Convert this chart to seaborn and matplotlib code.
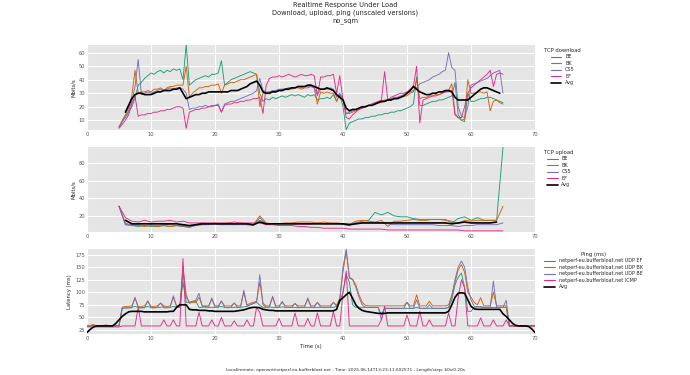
import numpy as np
import pandas as pd
import matplotlib
matplotlib.use("Agg")
import matplotlib.pyplot as plt
from matplotlib.lines import Line2D
import seaborn as sns

# ---------------- data ----------------
# TCP download (Mbits/s), time grid 5.0 .. 65.0 step 0.5
dl_t = np.round(np.arange(5.0, 65.01, 0.5), 1)
dl_be = [5, 9, 12, 16, 20, 26, 36, 38, 41, 43,
         45, 44, 46, 47, 45, 47, 46, 48, 47, 48,
         40, 66, 36, 38, 40, 41, 42, 43, 42, 44,
         44, 45, 54, 36, 38, 40, 41, 42, 43, 44,
         45, 46, 45, 44, 30, 24, 26, 25, 27, 26,
         27, 28, 27, 28, 29, 28, 29, 28, 27, 29,
         28, 29, 25, 26, 26, 27, 26, 29, 24, 29,
         20, 3, 8, 9, 10, 11, 11, 12, 12, 13,
         13, 14, 14, 15, 15, 16, 16, 17, 17, 18,
         19, 20, 22, 42, 21, 21, 22, 23, 24, 24,
         25, 25, 26, 27, 28, 38, 14, 10, 9, 30,
         24, 24, 25, 26, 26, 27, 27, 26, 25, 24, 23]
dl_bk = [5, 10, 14, 19, 28, 47, 30, 31, 31, 32,
         31, 33, 33, 34, 32, 34, 35, 35, 36, 36,
         36, 50, 27, 30, 32, 34, 34, 35, 35, 36,
         36, 37, 30, 36, 37, 38, 38, 39, 40, 40,
         41, 42, 43, 44, 20, 30, 30, 31, 31, 32,
         32, 33, 33, 34, 33, 34, 34, 33, 34, 34,
         35, 34, 22, 31, 30, 31, 30, 30, 24, 29,
         25, 15, 15, 16, 17, 18, 19, 20, 21, 21,
         22, 23, 23, 24, 25, 25, 26, 27, 27, 28,
         28, 30, 31, 40, 26, 27, 27, 28, 28, 29,
         29, 30, 31, 32, 37, 15, 12, 10, 11, 40,
         30, 30, 31, 31, 30, 31, 17, 24, 25, 23, 22]
dl_cs5 = [5, 9, 13, 17, 24, 35, 55, 29, 30, 31,
          30, 31, 32, 33, 32, 33, 34, 33, 34, 34,
          33, 30, 18, 19, 19, 20, 20, 21, 20, 21,
          21, 22, 16, 22, 23, 24, 24, 25, 26, 27,
          28, 29, 30, 32, 41, 32, 31, 31, 32, 32,
          33, 33, 33, 34, 34, 34, 35, 34, 35, 35,
          35, 34, 29, 33, 33, 33, 34, 33, 27, 30,
          26, 15, 16, 17, 18, 19, 19, 20, 21, 22,
          23, 23, 24, 25, 25, 26, 27, 27, 28, 29,
          30, 31, 32, 34, 37, 38, 39, 40, 42, 43,
          44, 46, 47, 60, 49, 47, 20, 13, 12, 20,
          36, 37, 38, 39, 40, 41, 43, 45, 46, 47, 30]
dl_ef = [4, 7, 10, 14, 22, 28, 13, 14, 14, 15,
         15, 16, 16, 17, 17, 18, 18, 19, 20, 20,
         19, 4, 16, 17, 18, 18, 19, 19, 20, 20,
         21, 21, 16, 21, 22, 22, 23, 23, 24, 24,
         25, 25, 26, 26, 27, 15, 36, 41, 42, 42,
         43, 42, 43, 44, 43, 42, 43, 44, 43, 43,
         44, 43, 28, 42, 42, 43, 43, 44, 30, 43,
         25, 12, 11, 14, 16, 18, 19, 20, 21, 22,
         23, 24, 25, 46, 25, 27, 28, 29, 30, 30,
         31, 33, 35, 50, 8, 25, 26, 27, 28, 28,
         29, 30, 31, 31, 32, 14, 12, 12, 20, 30,
         34, 36, 38, 40, 42, 44, 47, 35, 44, 45, 44]
dl_avg_t = np.round(np.arange(6.0, 64.51, 0.5), 1)
dl_avg = [16, 21, 26, 29, 30, 30, 29, 29,
          29, 30, 31, 31, 32, 32, 32, 33, 33, 34,
          30, 26, 27, 28, 29, 29, 30, 30, 31, 31,
          31, 31, 31, 31, 31, 32, 32, 32, 33, 34,
          35, 37, 38, 39, 36, 31, 30, 30, 31, 31,
          32, 32, 33, 33, 34, 34, 35, 35, 35, 36,
          36, 35, 34, 33, 33, 34, 33, 32, 29, 27,
          25, 19, 17, 18, 18, 19, 20, 20, 21, 21,
          22, 23, 24, 24, 25, 25, 26, 26, 27, 28,
          30, 32, 35, 33, 31, 30, 29, 29, 30, 30,
          31, 31, 32, 32, 31, 27, 25, 25, 25, 25,
          27, 29, 31, 33, 34, 34, 33, 32, 31, 30]

# TCP upload (Mbits/s), time grid 5 .. 65 step 1
ul_t = np.arange(5, 66, 1)
ul_be = [31, 10, 9, 8, 9, 8, 8, 9, 8, 9,
         9, 8, 10, 10, 11, 11, 10, 11, 10, 11,
         10, 10, 15, 11, 11, 11, 11, 11, 11, 11,
         11, 12, 11, 11, 11, 10, 9, 12, 14, 15,
         24, 21, 24, 20, 19, 19, 17, 16, 16, 16,
         16, 16, 12, 17, 19, 15, 18, 15, 15, 15,
         98]
ul_bk = [31, 12, 9, 9, 8, 9, 8, 9, 8, 9,
         8, 7, 10, 12, 11, 12, 11, 12, 11, 12,
         11, 10, 20, 12, 11, 11, 12, 12, 13, 13,
         13, 12, 13, 12, 12, 11, 10, 14, 15, 14,
         13, 15, 8, 14, 14, 15, 16, 15, 15, 16,
         16, 15, 14, 11, 15, 14, 15, 15, 15, 15,
         31]
ul_cs5 = [31, 10, 10, 10, 9, 10, 9, 10, 10, 9,
          8, 7, 9, 10, 10, 11, 10, 10, 10, 10,
          10, 9, 18, 10, 11, 11, 11, 11, 11, 11,
          11, 11, 11, 11, 11, 11, 11, 12, 12, 12,
          12, 12, 11, 10, 10, 10, 10, 10, 10, 10,
          9, 9, 9, 8, 9, 9, 10, 10, 10, 10,
          12]
ul_ef = [31, 18, 14, 13, 15, 13, 14, 14, 15, 13,
         14, 12, 12, 12, 12, 12, 12, 12, 13, 12,
         12, 12, 12, 10, 10, 9, 9, 9, 8, 8,
         7, 7, 6, 6, 6, 6, 5, 5, 5, 5,
         5, 5, 4, 4, 4, 4, 4, 4, 4, 4,
         4, 4, 4, 4, 3, 3, 3, 3, 3, 3,
         3]
ul_avg_t = np.arange(6, 65, 1)
ul_avg = [15, 11, 11, 11, 11, 11, 11, 11, 11, 10,
          9, 10, 11, 11, 11, 11, 11, 11, 11, 11,
          10, 13, 11, 11, 11, 11, 11, 11, 11, 11,
          11, 11, 11, 11, 11, 10, 11, 12, 12, 12,
          12, 12, 12, 12, 12, 12, 12, 12, 12, 12,
          12, 11, 12, 13, 12, 12, 12, 12, 13]

# Ping (ms), time grid 0 .. 70 step 0.5
pg_t = np.round(np.arange(0.0, 70.01, 0.5), 1)
pg_udp_ef = [33, 33, 34, 33, 33, 33, 34, 33, 33, 33,
             33, 68, 69, 69, 70, 72, 70, 69, 70, 72,
             70, 69, 70, 70, 71, 70, 70, 72, 70, 71,
             120, 80, 80, 82, 82, 70, 70, 72, 70, 70,
             70, 71, 72, 70, 69, 70, 70, 70, 70, 71,
             72, 75, 78, 80, 74, 70, 70, 71, 70, 70,
             70, 71, 70, 70, 70, 70, 69, 70, 70, 70,
             70, 70, 70, 70, 70, 70, 70, 70, 72, 80,
             100, 135, 120, 75, 70, 70, 70, 70, 70, 70,
             70, 70, 55, 68, 68, 68, 68, 68, 68, 68,
             68, 68, 68, 70, 68, 68, 68, 68, 68, 68,
             68, 68, 68, 70, 85, 115, 130, 138, 110, 62,
             62, 70, 72, 70, 70, 70, 70, 70, 70, 70,
             70, 70, 33, 33, 33, 33, 33, 33, 33, 33, 33]
pg_udp_bk = [34, 34, 36, 33, 34, 34, 35, 33, 34, 34,
             34, 70, 72, 72, 73, 88, 72, 72, 73, 82,
             72, 72, 73, 78, 73, 72, 73, 90, 73, 72,
             150, 95, 78, 80, 80, 90, 73, 73, 73, 86,
             73, 73, 82, 73, 73, 73, 78, 73, 73, 100,
             75, 78, 80, 82, 120, 78, 73, 73, 90, 73,
             73, 80, 73, 73, 73, 77, 73, 73, 73, 86,
             73, 73, 80, 73, 73, 73, 73, 80, 74, 88,
             140, 183, 130, 126, 115, 95, 80, 74, 73, 73,
             73, 73, 73, 73, 73, 73, 73, 73, 73, 73,
             80, 73, 73, 95, 73, 73, 73, 82, 73, 73,
             73, 73, 73, 75, 95, 120, 145, 155, 140, 100,
             90, 80, 75, 89, 73, 73, 73, 100, 73, 73,
             73, 73, 33, 33, 33, 33, 33, 33, 33, 33, 33]
pg_udp_be = [33, 33, 34, 33, 33, 34, 33, 33, 33, 33,
             33, 68, 69, 69, 69, 90, 69, 69, 69, 83,
             69, 69, 70, 79, 69, 69, 70, 93, 70, 70,
             140, 90, 80, 82, 84, 98, 72, 70, 70, 89,
             70, 70, 83, 70, 70, 70, 79, 70, 70, 104,
             72, 75, 78, 80, 135, 75, 70, 70, 92, 70,
             70, 82, 70, 70, 70, 78, 70, 70, 70, 89,
             70, 70, 80, 70, 70, 70, 70, 80, 72, 85,
             150, 185, 128, 125, 110, 90, 75, 70, 70, 70,
             70, 70, 45, 68, 68, 68, 68, 68, 68, 68,
             80, 68, 68, 85, 68, 68, 68, 75, 68, 68,
             68, 68, 68, 70, 90, 125, 150, 162, 150, 110,
             85, 72, 70, 72, 70, 70, 70, 122, 70, 70,
             70, 84, 33, 33, 33, 33, 33, 33, 33, 33, 33]
pg_icmp = [31, 31, 31, 31, 31, 31, 31, 31, 31, 31,
           31, 33, 33, 33, 33, 33, 70, 33, 33, 33,
           33, 33, 33, 33, 45, 33, 33, 45, 33, 33,
           167, 33, 33, 33, 33, 60, 33, 33, 33, 45,
           33, 33, 50, 33, 33, 33, 43, 33, 33, 33,
           45, 33, 33, 70, 60, 33, 33, 33, 33, 33,
           48, 33, 33, 33, 33, 59, 33, 33, 33, 48,
           33, 33, 59, 33, 33, 33, 33, 62, 33, 33,
           100, 142, 33, 33, 33, 33, 33, 33, 33, 33,
           33, 33, 45, 72, 33, 33, 33, 33, 33, 33,
           55, 33, 33, 33, 62, 33, 33, 45, 33, 33,
           33, 33, 33, 59, 33, 33, 90, 125, 108, 33,
           33, 33, 33, 49, 33, 33, 33, 45, 33, 33,
           33, 45, 33, 33, 33, 33, 33, 33, 33, 33, 33]
pg_avg = [20, 26, 31, 33, 33, 33, 33, 33, 33, 38,
          45, 52, 57, 61, 62, 62, 62, 62, 61, 61,
          61, 61, 61, 61, 61, 61, 62, 62, 70, 75,
          75, 75, 66, 65, 65, 64, 64, 64, 63, 63,
          62, 62, 62, 62, 62, 62, 62, 63, 64, 65,
          67, 69, 70, 70, 69, 66, 65, 64, 64, 63,
          63, 63, 63, 63, 63, 63, 63, 63, 63, 63,
          63, 63, 63, 63, 63, 63, 63, 63, 66, 84,
          89, 95, 100, 88, 75, 68, 64, 62, 61, 60,
          59, 58, 58, 58, 59, 59, 59, 59, 59, 59,
          59, 59, 59, 59, 59, 59, 59, 59, 59, 59,
          59, 59, 59, 62, 75, 90, 98, 99, 98, 85,
          72, 67, 66, 66, 66, 66, 66, 66, 66, 66,
          57, 52, 45, 38, 34, 33, 33, 33, 32, 27, 20]

tcp_names = ["BE", "BK", "CS5", "EF"]
ping_names = ["netperf-eu.bufferbloat.net UDP EF",
              "netperf-eu.bufferbloat.net UDP BK",
              "netperf-eu.bufferbloat.net UDP BE",
              "netperf-eu.bufferbloat.net ICMP"]
colors = ["#1b9e77", "#d95f02", "#7570b3", "#e7298a"]

# ---------------- style ----------------
sns.set_theme(style="darkgrid", rc={
    "axes.facecolor": "#E5E5E5",
    "grid.color": "white",
    "grid.linewidth": 0.8,
    "axes.edgecolor": "none",
    "xtick.color": "#555555",
    "ytick.color": "#555555",
})
plt.rcParams["font.family"] = ["DejaVu Sans"]

fig = plt.figure(figsize=(6.9, 3.75), dpi=100)
L, W, H = 87 / 690, 448 / 690, 85 / 375
ax1 = fig.add_axes([L, 1 - 130 / 375, W, H])
ax2 = fig.add_axes([L, 1 - 232 / 375, W, H])
ax3 = fig.add_axes([L, 1 - 334 / 375, W, H])

TICK_FS = 3.7
LAB_FS = 3.8
LEG_FS = 3.5


def draw_panel(ax, t, series, names, avg_t, avg_v, title, ylabel, ylim, ystep):
    frames = []
    for name, vals in zip(names, series):
        frames.append(pd.DataFrame({"t": t, "v": vals, "s": name}))
    df = pd.concat(frames, ignore_index=True)
    sns.lineplot(data=df, x="t", y="v", hue="s", hue_order=names,
                 palette=dict(zip(names, colors)), linewidth=0.65,
                 estimator=None, errorbar=None, legend=False, ax=ax)
    sns.lineplot(x=avg_t, y=avg_v, color="black", linewidth=1.2,
                 estimator=None, errorbar=None, legend=False, ax=ax)
    ax.set_xlim(0, 70)
    ax.set_ylim(*ylim)
    ax.xaxis.set_major_locator(plt.MultipleLocator(10))
    ax.yaxis.set_major_locator(plt.MultipleLocator(ystep))
    ax.tick_params(axis="both", labelsize=TICK_FS, length=0, pad=1.5)
    ax.set_xlabel("")
    ax.set_ylabel(ylabel, fontsize=LAB_FS, labelpad=2)
    handles = [Line2D([], [], color=c, lw=0.8) for c in colors]
    handles.append(Line2D([], [], color="black", lw=1.2))
    leg = ax.legend(handles, list(names) + ["Avg"], title=title,
                    loc="upper left", bbox_to_anchor=(1.012, 1.01),
                    frameon=False, fontsize=LEG_FS, title_fontsize=LEG_FS + 0.3,
                    handlelength=2.2, labelspacing=0.3, borderpad=0.3)
    return leg


draw_panel(ax1, dl_t, [dl_be, dl_bk, dl_cs5, dl_ef], tcp_names,
           dl_avg_t, dl_avg, "TCP download", "Mbits/s", (2.8, 65.7), 10)
draw_panel(ax2, ul_t, [ul_be, ul_bk, ul_cs5, ul_ef], tcp_names,
           ul_avg_t, ul_avg, "TCP upload", "Mbits/s", (1.7, 98.3), 20)
draw_panel(ax3, pg_t, [pg_udp_ef, pg_udp_bk, pg_udp_be, pg_icmp], ping_names,
           pg_t, pg_avg, "Ping (ms)", "Latency (ms)", (17, 186), 25)
ax3.set_xlabel("Time (s)", fontsize=LAB_FS, labelpad=2)

fig.text(0.5, 0.995, "Realtime Response Under Load\nDownload, upload, ping (unscaled versions)\nno_sqm",
         ha="center", va="top", fontsize=4.8, linespacing=1.3)
fig.text(0.5, 0.013,
         "Local/remote: openwrt/netperf.eu.bufferbloat.net - Time: 2025-06-14T13:23:11.602571 - Length/step: 60s/0.20s",
         ha="center", va="center", fontsize=3.1)

fig.savefig("out.png", dpi=100)
